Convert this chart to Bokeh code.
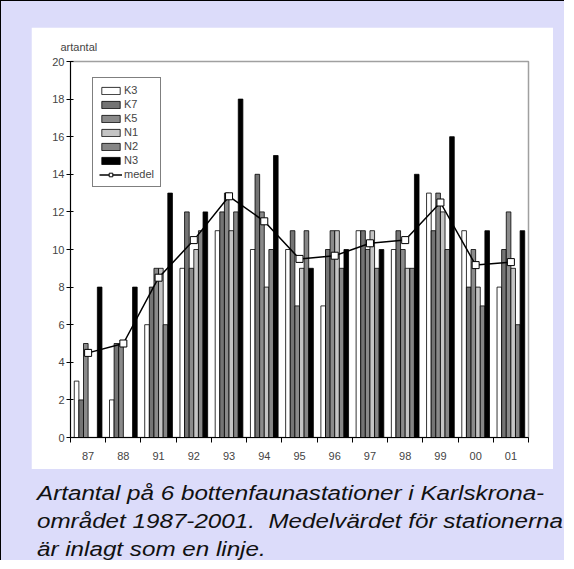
from bokeh.plotting import figure
from bokeh.models import (ColumnDataSource, FixedTicker, Legend, LegendItem, Div,
                          Column, Range1d, Spacer)
from bokeh.transform import dodge
from bokeh.embed import file_html
from bokeh.resources import INLINE

nan = float("nan")
years = ["87", "88", "91", "92", "93", "94", "95", "96", "97", "98", "99", "00", "01"]
K3 = [3, 2, 6, 9, 11, 10, 10, 7, 11, 10, 13, 11, 8]
K7 = [2, 5, 8, 12, 12, 14, 11, 10, 11, 11, 11, 8, 10]
K5 = [5, 5, 9, 9, 13, 12, 7, 11, 10, 10, 13, 10, 12]
N1 = [nan, nan, 9, 10, 11, 8, 9, 11, 11, 9, 12, 8, 9]
N2 = [nan, nan, 6, 11, 12, 10, 11, 9, 9, 9, 10, 7, 6]
N3 = [8, 8, 13, 12, 18, 15, 9, 10, 10, 14, 16, 11, 11]
medel = [4.5, 5.0, 8.5, 10.5, 12.83, 11.5, 9.5, 9.67, 10.33, 10.5, 12.5, 9.17, 9.33]
yticks = [0, 2, 4, 6, 8, 10, 12, 14, 16, 18, 20]

series = [("K3", K3, "#ffffff"), ("K7", K7, "#747474"), ("K5", K5, "#8a8a8a"),
          ("N1", N1, "#c4c4c4"), ("N2", N2, "#868686"), ("N3", N3, "#000000")]

xc = [i + 0.5 for i in range(len(years))]
src = ColumnDataSource(dict(x=xc, K3=K3, K7=K7, K5=K5, N1=N1, N2=N2, N3=N3, medel=medel))

NARROW = "'Liberation Sans Narrow', 'Liberation Sans', Arial, sans-serif"

p = figure(width=522, height=442, x_range=Range1d(0, 13), y_range=Range1d(0, 20),
           output_backend="svg", toolbar_location=None,
           min_border_left=39, min_border_right=25, min_border_top=34, min_border_bottom=32,
           background_fill_color="white", border_fill_color="white")
p.xgrid.visible = False
p.ygrid.visible = False
p.outline_line_color = "#a0a0a0"
p.outline_line_width = 1.5

bw = 0.131
items = []
for i, (name, vals, col) in enumerate(series):
    r = p.vbar(x=dodge("x", (i - 2.5) * bw, range=p.x_range), top=name, width=bw,
               fill_color=col, line_color="black", line_width=0.8, source=src)
    items.append(LegendItem(label=name, renderers=[r]))

lr = p.line("x", "medel", line_color="black", line_width=1.5, source=src)
sr = p.scatter("x", "medel", marker="square", size=7, fill_color="white",
               line_color="black", line_width=1, source=src)
items.append(LegendItem(label="medel", renderers=[lr, sr]))

legend = Legend(items=items, location=(22, 250), glyph_width=23, glyph_height=9,
                label_height=12, spacing=2, padding=6, margin=0,
                border_line_color="black", border_line_width=1,
                label_text_font_size="11px", label_text_font=NARROW,
                label_standoff=2, background_fill_alpha=1)
p.add_layout(legend)

# y axis
p.yaxis.ticker = FixedTicker(ticks=yticks, minor_ticks=[])
p.yaxis.major_tick_in = 3
p.yaxis.major_tick_out = 4
p.yaxis.axis_line_color = "black"
p.yaxis.major_label_text_font_size = "11px"
p.yaxis.major_label_text_font = NARROW
p.yaxis.major_label_standoff = 2

# x axis: ticks on group boundaries, labels in the middle
p.xaxis.ticker = FixedTicker(ticks=xc, minor_ticks=list(range(len(years) + 1)))
p.xaxis.major_label_overrides = {x: y for x, y in zip(xc, years)}
p.xaxis.major_tick_in = 0
p.xaxis.major_tick_out = 0
p.xaxis.minor_tick_in = 0
p.xaxis.minor_tick_out = 5
p.xaxis.axis_line_color = "black"
p.xaxis.major_label_text_font_size = "11px"
p.xaxis.major_label_text_font = NARROW
p.xaxis.major_label_standoff = 9

p.title.text = "artantal"
p.title.align = "left"
p.title.offset = -10
p.title.text_font = NARROW
p.title.text_font_size = "11px"
p.title.text_font_style = "normal"
p.title.standoff = 18

p.margin = (26, 11, 0, 30)

cap = Div(text='<div style="position:relative; left:14px; font-family:\'Liberation Sans\', Arial, sans-serif; '
               'font-style:italic; font-size:20px; line-height:28px; color:#111111; '
               'white-space:nowrap; transform:scaleX(1.21); transform-origin:left top;">'
               'Artantal på 6 bottenfaunastationer i Karlskrona-<br>'
               'området 1987-2001.&nbsp; Medelvärdet för stationerna<br>'
               'är inlagt som en linje.</div>',
          margin=(10, 0, 3, 22), width=430, height=78)

widener = Spacer(width=556, height=0)

layout = Column(children=[p, cap, widener],
                styles={"background-color": "#dcdcfa", "border-left": "1px solid #000",
                        "border-top": "1px solid #000"})

open("out.html", "w").write(file_html(layout, INLINE))
